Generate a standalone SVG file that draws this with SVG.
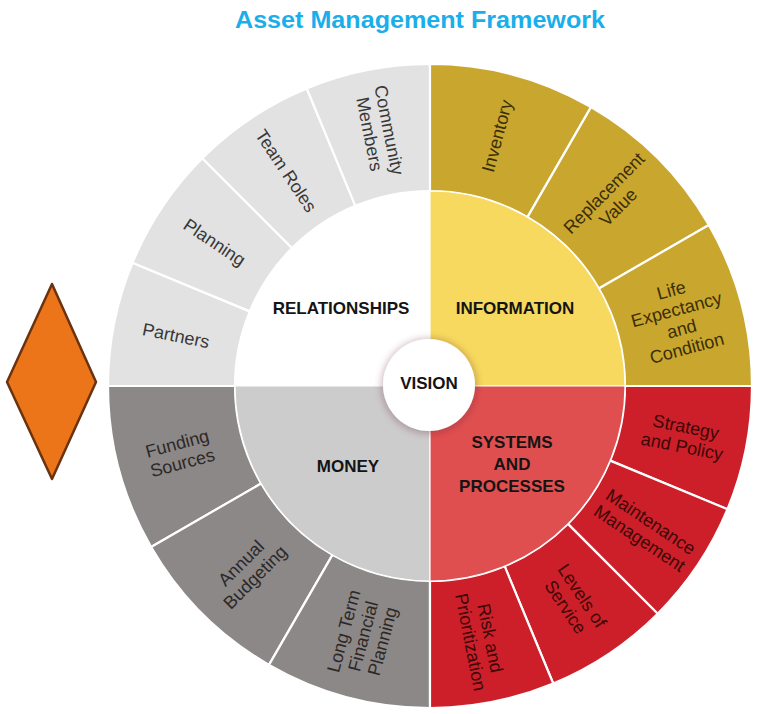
<svg xmlns="http://www.w3.org/2000/svg" width="757" height="714" viewBox="0 0 757 714">
<style>
.seg{stroke:#ffffff;stroke-width:2.2;stroke-linejoin:round}
.inner{stroke:#ffffff;stroke-width:1.2}
.lbl{font-family:"Liberation Sans",Arial,Helvetica,sans-serif;font-size:18px;text-anchor:middle}
.hd{font-family:"Liberation Sans",Arial,Helvetica,sans-serif;font-size:17px;font-weight:bold;text-anchor:middle;fill:#141414}
.g-rel{fill:#e2e2e2}.t-rel{fill:#383838}
.g-inf{fill:#c9a62e}.t-inf{fill:#3a2f08}
.g-mon{fill:#8c8887}.t-mon{fill:#2c2828}
.g-sys{fill:#cd1f29}.t-sys{fill:#3c0707}
</style>
<defs>
<filter id="shadow" x="-40%" y="-40%" width="180%" height="180%">
<feGaussianBlur in="SourceAlpha" stdDeviation="4"/>
<feOffset dx="0" dy="1" result="b"/>
<feFlood flood-color="#5a2030" flood-opacity="0.45"/>
<feComposite in2="b" operator="in"/>
<feMerge><feMergeNode/><feMergeNode in="SourceGraphic"/></feMerge>
</filter>
</defs>
<rect width="757" height="714" fill="#ffffff"/>
<text id="title" x="420" y="28" font-family="'Liberation Sans',Arial,sans-serif" font-size="24" font-weight="bold" fill="#1aaeea" text-anchor="middle" textLength="370" lengthAdjust="spacingAndGlyphs">Asset Management Framework</text>

<g id="diamond">
<polygon points="52,284 96,382 52,479 7,382" fill="#ec7419" stroke="#6a3310" stroke-width="2.5" stroke-linejoin="round"/>
</g>

<!-- Outer ring segments -->
<g id="partners">
<path class="seg g-rel" d="M108,386 A322,322 0 0 1 132.51,262.78 L249.84,311.38 A195,195 0 0 0 235,386 Z"/>
<text class="lbl t-rel" transform="translate(175.98,335.47) rotate(11.25)"><tspan x="0" y="6.3">Partners</tspan></text>
</g>
<g id="planning">
<path class="seg g-rel" d="M132.51,262.78 A322,322 0 0 1 202.31,158.31 L292.11,248.11 A195,195 0 0 0 249.84,311.38 Z"/>
<text class="lbl t-rel" transform="translate(214.65,242.11) rotate(33.75)"><tspan x="0" y="6.3">Planning</tspan></text>
</g>
<g id="team-roles">
<path class="seg g-rel" d="M202.31,158.31 A322,322 0 0 1 306.78,88.51 L355.38,205.84 A195,195 0 0 0 292.11,248.11 Z"/>
<text class="lbl t-rel" transform="translate(286.11,170.65) rotate(56.25)"><tspan x="0" y="6.3">Team Roles</tspan></text>
</g>
<g id="community-members">
<path class="seg g-rel" d="M306.78,88.51 A322,322 0 0 1 430,64 L430,191 A195,195 0 0 0 355.38,205.84 Z"/>
<text class="lbl t-rel" transform="translate(379.47,131.98) rotate(78.75)"><tspan x="0" y="-3.7">Community</tspan><tspan x="0" y="16.3">Members</tspan></text>
</g>

<g id="inventory">
<path class="seg g-inf" d="M430,64 A322,322 0 0 1 591,107.14 L527.5,217.12 A195,195 0 0 0 430,191 Z"/>
<text class="lbl t-inf" transform="translate(497.03,135.82) rotate(-75)"><tspan x="0" y="6.3">Inventory</tspan></text>
</g>
<g id="replacement-value">
<path class="seg g-inf" d="M591,107.14 A322,322 0 0 1 708.86,225 L598.88,288.5 A195,195 0 0 0 527.5,217.12 Z"/>
<text class="lbl t-inf" transform="translate(611,200) rotate(-45)"><tspan x="0" y="-3.7">Replacement</tspan><tspan x="0" y="16.3">Value</tspan></text>
</g>
<g id="life-expectancy">
<path class="seg g-inf" d="M708.86,225 A322,322 0 0 1 752,386 L625,386 A195,195 0 0 0 598.88,288.5 Z"/>
<text class="lbl t-inf" transform="translate(679,319) rotate(-15)"><tspan x="0" y="-23.7">Life</tspan><tspan x="0" y="-3.7">Expectancy</tspan><tspan x="0" y="16.3">and</tspan><tspan x="0" y="36.3">Condition</tspan></text>
</g>

<g id="funding-sources">
<path class="seg g-mon" d="M108,386 A322,322 0 0 0 151.14,547 L261.12,483.5 A195,195 0 0 1 235,386 Z"/>
<text class="lbl t-mon" transform="translate(179.82,453.03) rotate(-15)"><tspan x="0" y="-3.7">Funding</tspan><tspan x="0" y="16.3">Sources</tspan></text>
</g>
<g id="annual-budgeting">
<path class="seg g-mon" d="M151.14,547 A322,322 0 0 0 269,664.86 L332.5,554.88 A195,195 0 0 1 261.12,483.5 Z"/>
<text class="lbl t-mon" transform="translate(248,570) rotate(-45)"><tspan x="0" y="-3.7">Annual</tspan><tspan x="0" y="16.3">Budgeting</tspan></text>
</g>
<g id="long-term-financial-planning">
<path class="seg g-mon" d="M269,664.86 A322,322 0 0 0 430,708 L430,581 A195,195 0 0 1 332.5,554.88 Z"/>
<text class="lbl t-mon" transform="translate(362.97,636.18) rotate(-75)"><tspan x="0" y="-13.7">Long Term</tspan><tspan x="0" y="6.3">Financial</tspan><tspan x="0" y="26.3">Planning</tspan></text>
</g>

<g id="strategy-and-policy">
<path class="seg g-sys" d="M752,386 A322,322 0 0 1 727.49,509.22 L610.16,460.62 A195,195 0 0 0 625,386 Z"/>
<text class="lbl t-sys" transform="translate(684.02,436.53) rotate(11.25)"><tspan x="0" y="-3.7">Strategy</tspan><tspan x="0" y="16.3">and Policy</tspan></text>
</g>
<g id="maintenance-management">
<path class="seg g-sys" d="M727.49,509.22 A322,322 0 0 1 657.69,613.69 L567.89,523.89 A195,195 0 0 0 610.16,460.62 Z"/>
<text class="lbl t-sys" transform="translate(645.35,529.89) rotate(33.75)"><tspan x="0" y="-3.7">Maintenance</tspan><tspan x="0" y="16.3">Management</tspan></text>
</g>
<g id="levels-of-service">
<path class="seg g-sys" d="M657.69,613.69 A322,322 0 0 1 553.22,683.49 L504.62,566.16 A195,195 0 0 0 567.89,523.89 Z"/>
<text class="lbl t-sys" transform="translate(573.89,601.35) rotate(56.25)"><tspan x="0" y="-3.7">Levels of</tspan><tspan x="0" y="16.3">Service</tspan></text>
</g>
<g id="risk-and-prioritization">
<path class="seg g-sys" d="M553.22,683.49 A322,322 0 0 1 430,708 L430,581 A195,195 0 0 0 504.62,566.16 Z"/>
<text class="lbl t-sys" transform="translate(480.53,640.02) rotate(78.75)"><tspan x="0" y="-3.7">Risk and</tspan><tspan x="0" y="16.3">Prioritization</tspan></text>
</g>

<!-- Inner quadrants -->
<g id="relationships">
<path class="inner" fill="#ffffff" d="M430,386 L235,386 A195,195 0 0 1 430,191 Z"/>
<text class="hd" x="341" y="314">RELATIONSHIPS</text>
</g>
<g id="information">
<path class="inner" fill="#f6d95e" d="M430,386 L430,191 A195,195 0 0 1 625,386 Z"/>
<text class="hd" x="515" y="314">INFORMATION</text>
</g>
<g id="money">
<path class="inner" fill="#cdcccc" d="M430,386 L430,581 A195,195 0 0 1 235,386 Z"/>
<text class="hd" x="348" y="472">MONEY</text>
</g>
<g id="systems-and-processes">
<path class="inner" fill="#e04f50" d="M430,386 L625,386 A195,195 0 0 1 430,581 Z"/>
<text class="hd" fill="#1a0505"><tspan x="512" y="448">SYSTEMS</tspan><tspan x="512" y="470">AND</tspan><tspan x="512" y="492">PROCESSES</tspan></text>
</g>

<g id="vision">
<circle cx="429" cy="385" r="46" fill="#ffffff" filter="url(#shadow)"/>
<text class="hd" x="429" y="389" font-size="18">VISION</text>
</g>
</svg>
